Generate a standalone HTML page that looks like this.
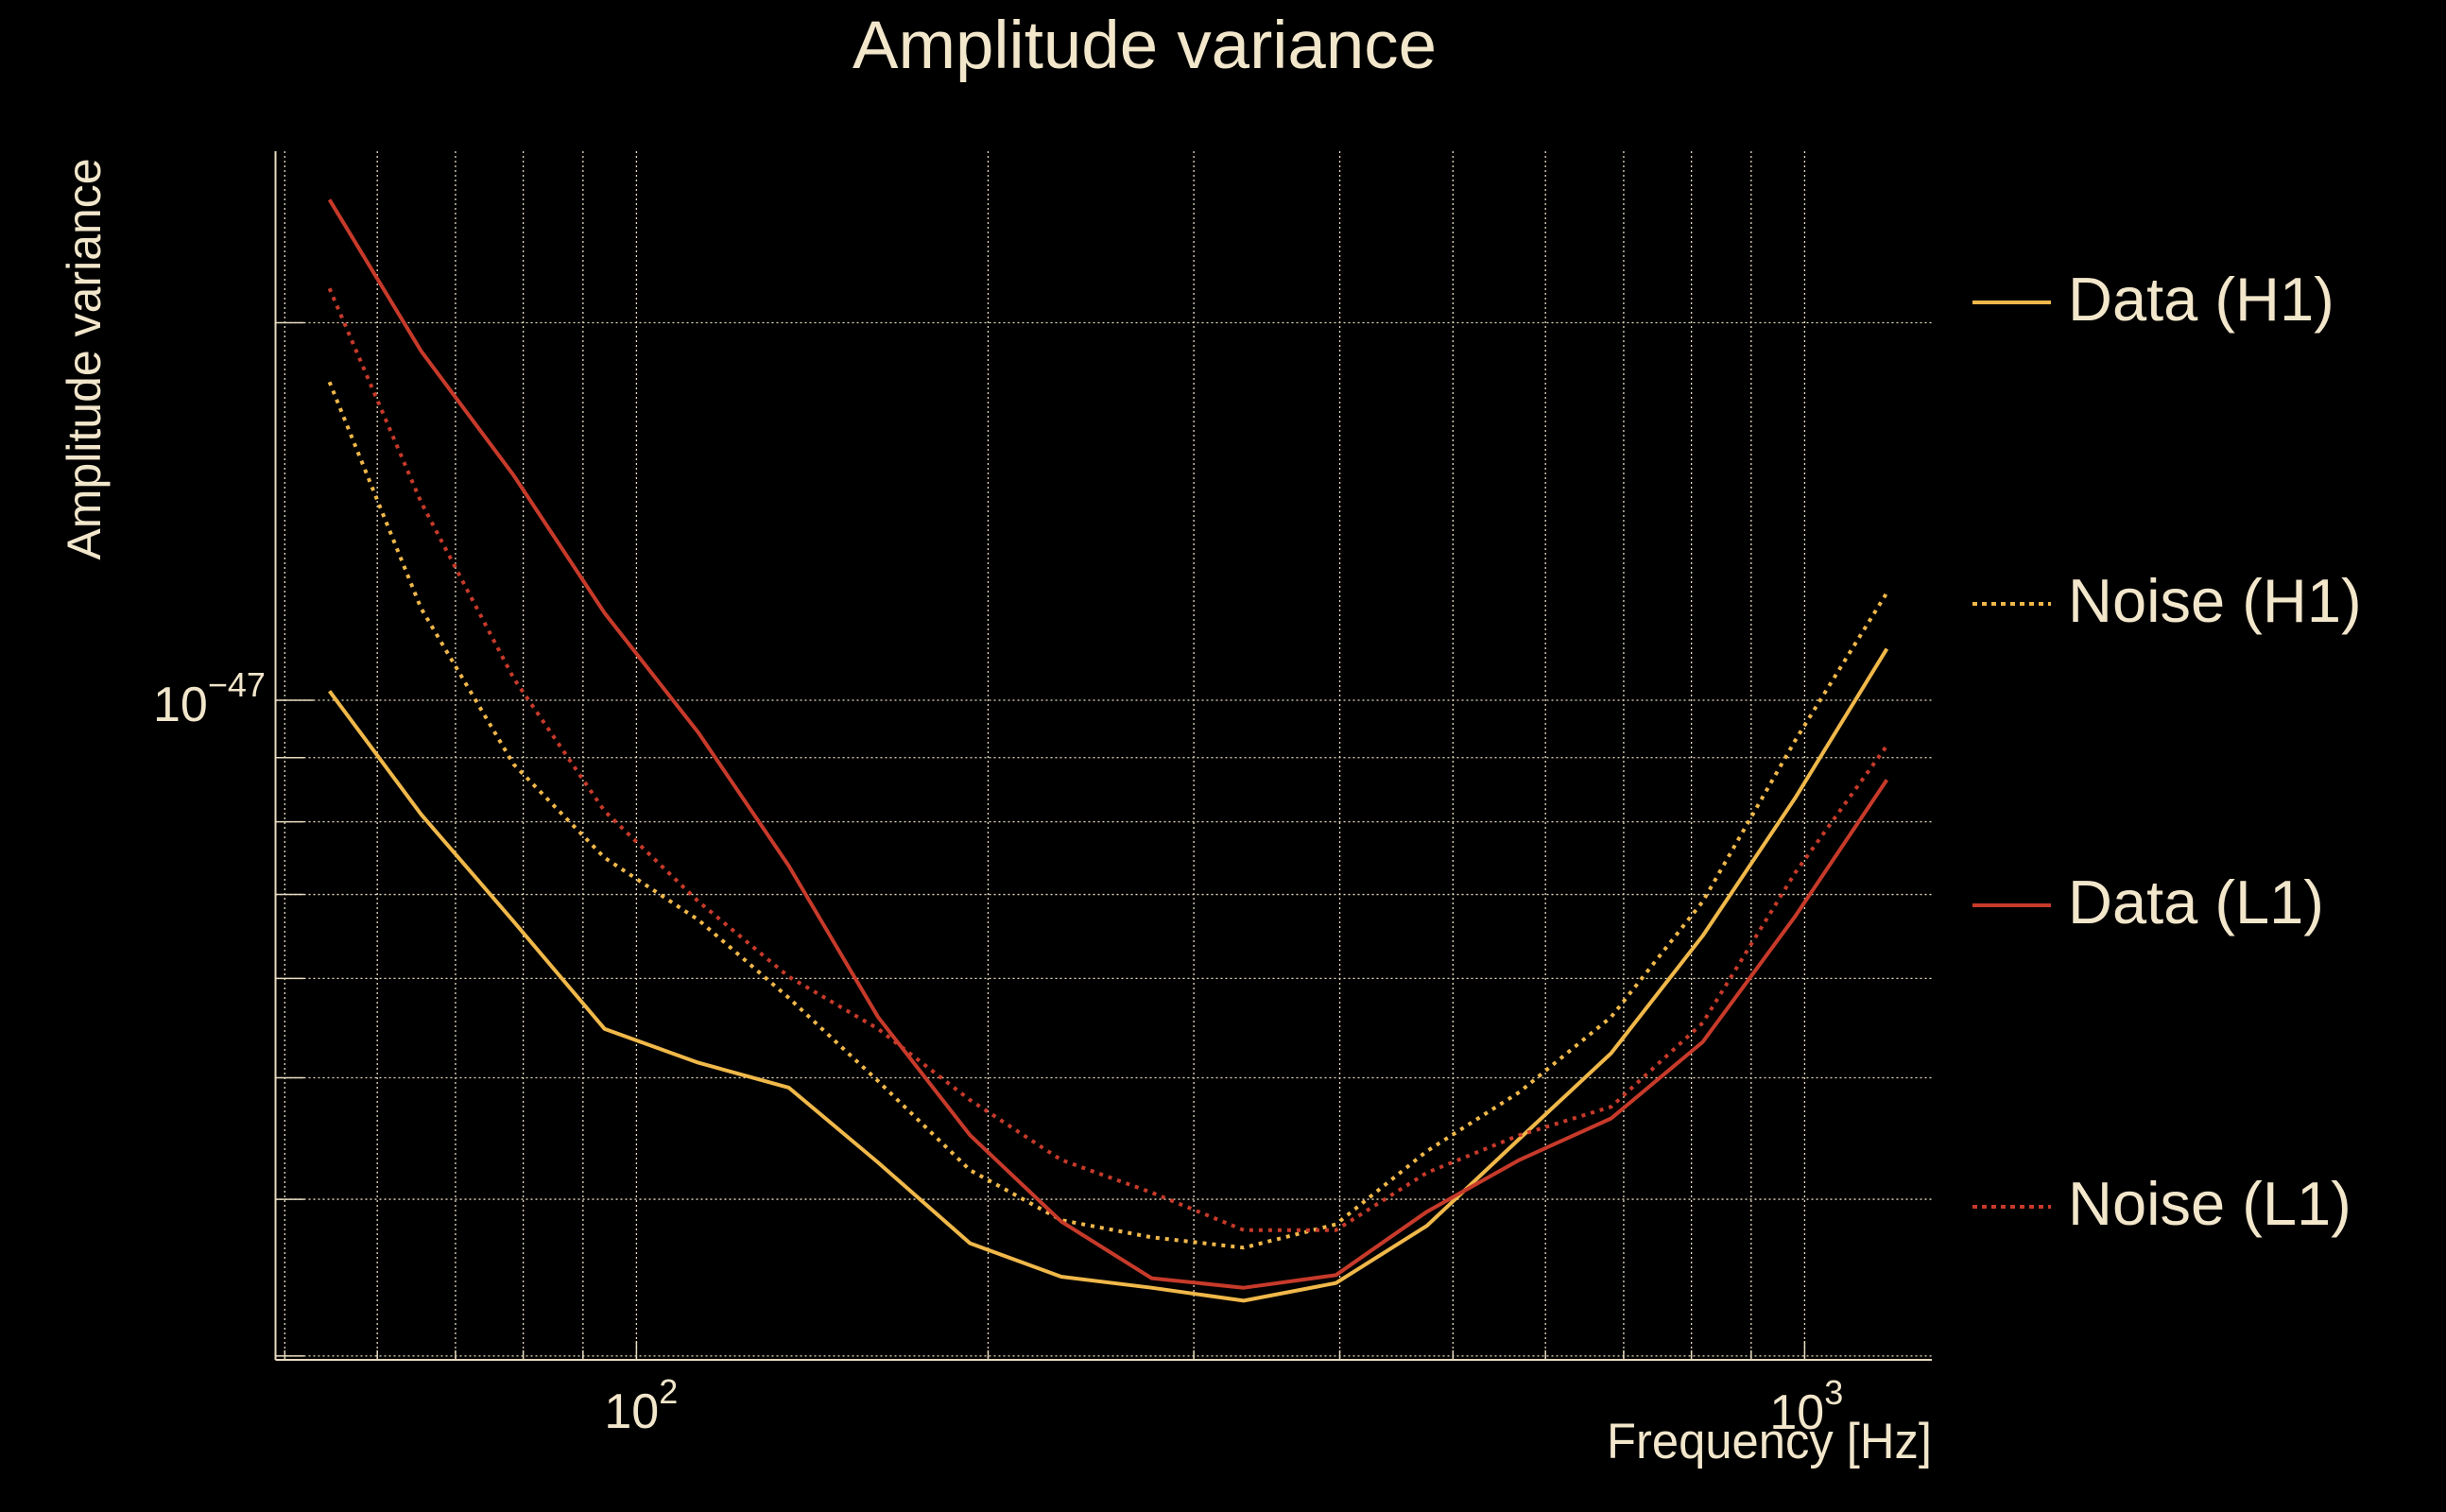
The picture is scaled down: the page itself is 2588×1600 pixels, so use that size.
<!DOCTYPE html>
<html><head><meta charset="utf-8"><style>
html,body{margin:0;padding:0;background:#000;}
svg{display:block;}
text{font-family:"Liberation Sans",sans-serif;fill:#f2e6cb;}
</style></head><body>
<svg id="chart" width="2588" height="1600" viewBox="0 0 2588 1600">
<rect width="2588" height="1600" fill="#000"/>
<text x="1211" y="72" font-size="71" text-anchor="middle" textLength="618" lengthAdjust="spacingAndGlyphs">Amplitude variance</text>
<text transform="translate(106,380) rotate(-90)" font-size="50" text-anchor="middle">Amplitude variance</text>
<text x="2044" y="1543" font-size="53" text-anchor="end" textLength="344" lengthAdjust="spacingAndGlyphs">Frequency [Hz]</text>
<g id="grid"></g>
<g id="series"></g>
<g id="axes"></g>
<g id="legend"></g>
</svg>
<script>
// ---- data ----
const freqs = [54.6, 65.4, 78.5, 93.9, 113, 135, 161, 193, 231, 276, 331, 397, 475, 570, 683, 818, 981, 1176];
const dataH1 = [10.17, 8.11, 6.66, 5.47, 5.14, 4.91, 4.28, 3.69, 3.47, 3.40, 3.32, 3.43, 3.81, 4.47, 5.23, 6.49, 8.35, 10.99];
const noiseH1 = [17.94, 11.84, 8.89, 7.49, 6.68, 5.79, 4.97, 4.22, 3.85, 3.73, 3.66, 3.82, 4.37, 4.87, 5.59, 6.91, 9.28, 12.18];
const dataL1 = [25.07, 18.99, 15.11, 11.74, 9.42, 7.38, 5.59, 4.50, 3.84, 3.46, 3.40, 3.48, 3.91, 4.30, 4.64, 5.34, 6.72, 8.64];
const noiseL1 = [21.30, 14.39, 10.41, 8.16, 6.91, 6.02, 5.47, 4.80, 4.30, 4.05, 3.78, 3.78, 4.20, 4.50, 4.74, 5.53, 7.28, 9.20];
const valueUnit = 1e-48;
const xGridValues = [50, 60, 70, 80, 90, 100, 200, 300, 400, 500, 600, 700, 800, 900, 1000];
const yGridValues = [3, 4, 5, 6, 7, 8, 9, 10, 20];
const seriesNames = ["Data (H1)", "Noise (H1)", "Data (L1)", "Noise (L1)"];

// ---- axes ----
const L = 291.5, R = 2044, T = 160, B = 1439;
const X100 = 673.4, XDEC = 1236;
const Y10 = 741, YDEC = 1327;
function xs(f){ return X100 + (Math.log10(f) - 2) * XDEC; }
function ys(v){ return Y10 - (Math.log10(v) - 1) * YDEC; } // v in units of 1e-48

const NS = "http://www.w3.org/2000/svg";
function mk(tag, attrs, parent){
  const e = document.createElementNS(NS, tag);
  for (const k in attrs) e.setAttribute(k, attrs[k]);
  parent.appendChild(e);
  return e;
}
const grid = document.getElementById('grid');
const axes = document.getElementById('axes');
const GC = "#e8dcc0";
xGridValues.forEach(f => {
  const x = xs(f);
  const l = mk('line', {x1:x, x2:x, y1:T, y2:B, stroke:GC, 'stroke-width':1.3, 'stroke-dasharray':'2,3'}, grid);
  
  
  const tk = mk('line', {x1:x, x2:x, y1:B, y2:B-((f===100||f===1000)?20:10), stroke:GC, 'stroke-width':1.5}, axes);
  
  
});
yGridValues.forEach(v => {
  const y = ys(v);
  const l = mk('line', {x1:L, x2:R, y1:y, y2:y, stroke:GC, 'stroke-width':1.3, 'stroke-dasharray':'2,3'}, grid);
  
  
  const tk = mk('line', {x1:L, x2:L+(v===10?40:30), y1:y, y2:y, stroke:GC, 'stroke-width':1.5}, axes);
  
  
});
const ax1 = mk('line', {x1:L, x2:L, y1:T, y2:B, stroke:GC, 'stroke-width':2}, axes);


const ax2 = mk('line', {x1:L, x2:R, y1:B, y2:B, stroke:GC, 'stroke-width':2}, axes);



// tick labels
function powLabel(x, y, exp, name){
  const t = mk('text', {x:x, y:y, 'font-size':52}, axes);
  
  
  t.textContent = "10";
  const s = mk('tspan', {dy:-26, 'font-size':36}, t);
  s.textContent = exp;
}
powLabel(xs(100) - 34, 1511, "2", 'x-tick-label-100');
powLabel(xs(1000) - 37, 1512, "3", 'x-tick-label-1000');
powLabel(162, ys(10) + 22, "\u221247", 'y-tick-label-1e-47');

// series
const series = [
  {vals: dataH1, color:"#f0b84a", dash:null, name:'line-data-h1'},
  {vals: noiseH1, color:"#f0b84a", dash:'4,6', name:'line-noise-h1'},
  {vals: dataL1, color:"#c73a2a", dash:null, name:'line-data-l1'},
  {vals: noiseL1, color:"#c73a2a", dash:'4,6', name:'line-noise-l1'}
];
const sg = document.getElementById('series');
series.forEach(s => {
  const pts = freqs.map((f,i) => xs(f).toFixed(1) + "," + ys(s.vals[i]).toFixed(1)).join(" ");
  const a = {points:pts, fill:'none', stroke:s.color, 'stroke-width':4, 'stroke-linejoin':'round'};
  if (s.dash) a['stroke-dasharray'] = s.dash;
  const p = mk('polyline', a, sg);
  
  
});

// legend
const lg = document.getElementById('legend');
series.forEach((s, i) => {
  const y = 320 + i * 319;
  const a = {x1:2087, x2:2170, y1:y, y2:y, stroke:s.color, 'stroke-width':4};
  if (s.dash) a['stroke-dasharray'] = '5,5';
  const l = mk('line', a, lg);
  
  
  const t = mk('text', {x:2188, y:y+19, 'font-size':65}, lg);
  
  
  t.textContent = seriesNames[i];
});
</script>
</body></html>
